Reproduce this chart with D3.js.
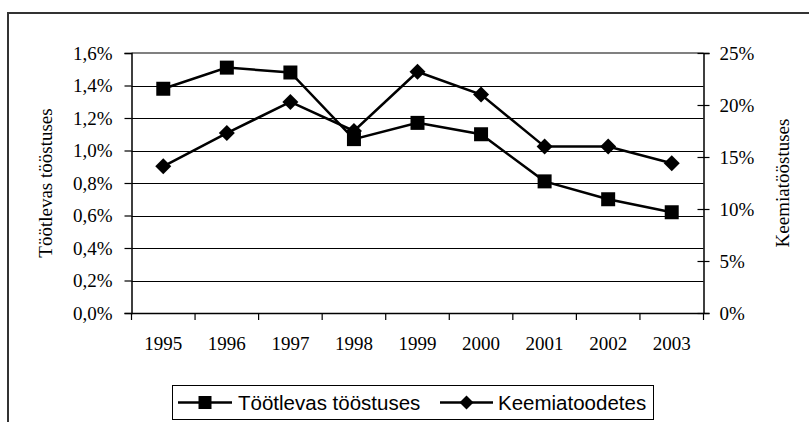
<!DOCTYPE html>
<html>
<head>
<meta charset="utf-8">
<script src="https://cdn.jsdelivr.net/npm/d3@7"></script>
<style>
	body { margin: 0; background: #fff; }
	svg { display: block; }
</style>
</head>
<body>
<div id="chart"></div>
<script>
// andmed
const years = ["1995", "1996", "1997", "1998", "1999", "2000", "2001", "2002", "2003"];
const tootlevas = [0.0138, 0.0151, 0.0148, 0.0107, 0.0117, 0.0110, 0.0081, 0.0070, 0.0062];
const keemia = [0.141, 0.173, 0.203, 0.175, 0.232, 0.210, 0.160, 0.160, 0.144];
const leftTicks = [0, 0.002, 0.004, 0.006, 0.008, 0.010, 0.012, 0.014, 0.016];
const rightTicks = [0, 0.05, 0.10, 0.15, 0.20, 0.25];
const seriesNames = ["Töötlevas tööstuses", "Keemiatoodetes"];

const width = 809;
const height = 422;
const plot = { left: 131.5, right: 703.5, top: 53, bottom: 313 };

const et = d3.formatLocale({ decimal: ",", thousands: " ", grouping: [3], currency: ["", " €"] });

const svg = d3
	.select("#chart")
	.append("svg")
	.attr("width", width)
	.attr("height", height);

// välimine raam
svg.append("path")
	.attr("d", `M8,${height} V13 H${width}`)
	.attr("fill", "none")
	.attr("stroke", "#333")
	.attr("stroke-width", 2);

const x = d3.scaleBand().domain(years).range([plot.left, plot.right]);
const yL = d3.scaleLinear().domain([0, 0.016]).range([plot.bottom, plot.top]);
const yR = d3.scaleLinear().domain([0, 0.25]).range([plot.bottom, plot.top]);

// ruudustik
svg.append("g")
	.selectAll("line")
	.data(leftTicks.slice(1, -1))
	.enter()
	.append("line")
	.attr("x1", plot.left)
	.attr("x2", plot.right)
	.attr("y1", (d) => Math.round(yL(d)) + 0.5)
	.attr("y2", (d) => Math.round(yL(d)) + 0.5)
	.attr("stroke", "#000")
	.attr("stroke-width", 1);

// ülemine raam
svg.append("line")
	.attr("x1", plot.left)
	.attr("x2", plot.right)
	.attr("y1", plot.top)
	.attr("y2", plot.top)
	.attr("stroke", "#808080")
	.attr("stroke-width", 2);

const tickFont = (g) =>
	g.selectAll("text")
		.attr("font-family", "'Liberation Serif', 'Times New Roman', serif")
		.attr("font-size", "19px")
		.attr("fill", "#000");

// vasak telg
const leftAxis = d3.axisLeft(yL).tickValues(leftTicks).tickFormat(et.format(".1%")).tickSize(7).tickPadding(12);
svg.append("g")
	.attr("transform", `translate(${plot.left},0)`)
	.call(leftAxis)
	.call((g) => g.select(".domain").attr("stroke-width", 1.5))
	.call((g) => g.selectAll(".tick line").attr("stroke-width", 1.2))
	.call(tickFont);

// parem telg (ristuvad kriipsud)
const rightAxis = d3.axisRight(yR).tickValues(rightTicks).tickFormat(et.format(".0%")).tickSize(6).tickPadding(10);
svg.append("g")
	.attr("transform", `translate(${plot.right},0)`)
	.call(rightAxis)
	.call((g) => g.select(".domain").attr("stroke-width", 1.5))
	.call((g) => g.selectAll(".tick line").attr("x1", -6).attr("stroke-width", 1.2))
	.call(tickFont);

// x telg: kriipsud kategooriate vahel
const xAxis = d3.axisBottom(x).tickSize(0).tickPadding(24);
const xg = svg.append("g")
	.attr("transform", `translate(0,${plot.bottom})`)
	.call(xAxis)
	.call((g) => g.select(".domain").attr("stroke-width", 1.5))
	.call(tickFont);
xg.selectAll(".sep")
	.data(years.concat([null]))
	.enter()
	.append("line")
	.attr("x1", (d, i) => plot.left + i * x.step())
	.attr("x2", (d, i) => plot.left + i * x.step())
	.attr("y1", 0)
	.attr("y2", 7)
	.attr("stroke", "#000")
	.attr("stroke-width", 1.2);

// telgede pealkirjad
svg.append("text")
	.attr("transform", `translate(52,${(plot.top + plot.bottom) / 2}) rotate(-90)`)
	.attr("text-anchor", "middle")
	.attr("font-family", "'Liberation Serif', 'Times New Roman', serif")
	.attr("font-size", "19px")
	.text("Töötlevas tööstuses");

svg.append("text")
	.attr("transform", `translate(789,${(plot.top + plot.bottom) / 2}) rotate(-90)`)
	.attr("text-anchor", "middle")
	.attr("font-family", "'Liberation Serif', 'Times New Roman', serif")
	.attr("font-size", "19px")
	.text("Keemiatööstuses");

const cx = (d, i) => x(years[i]) + x.bandwidth() / 2;

const square = d3.symbol().type(d3.symbolSquare).size(196);
const diamond = (s) => `M0,${-s}L${s},0L0,${s}L${-s},0Z`;

// Töötlevas tööstuses
svg.append("path")
	.datum(tootlevas)
	.attr("fill", "none")
	.attr("stroke", "#000")
	.attr("stroke-width", 2.5)
	.attr("d", d3.line().x(cx).y((d) => yL(d)));

svg.append("g")
	.selectAll("path")
	.data(tootlevas)
	.enter()
	.append("path")
	.attr("d", square)
	.attr("transform", (d, i) => `translate(${cx(d, i)},${yL(d)})`)
	.attr("fill", "#000");

// Keemiatoodetes
svg.append("path")
	.datum(keemia)
	.attr("fill", "none")
	.attr("stroke", "#000")
	.attr("stroke-width", 2.5)
	.attr("d", d3.line().x(cx).y((d) => yR(d)));

svg.append("g")
	.selectAll("path")
	.data(keemia)
	.enter()
	.append("path")
	.attr("d", diamond(8))
	.attr("transform", (d, i) => `translate(${cx(d, i)},${yR(d)})`)
	.attr("fill", "#000");

// legend
const legend = svg.append("g");
legend.append("rect")
	.attr("x", 172.5)
	.attr("y", 385.5)
	.attr("width", 481)
	.attr("height", 34)
	.attr("fill", "#fff")
	.attr("stroke", "#000")
	.attr("stroke-width", 1);

const legendItems = [
	{ name: seriesNames[0], x0: 178, x1: 232, text: 238, marker: square },
	{ name: seriesNames[1], x0: 440, x1: 493, text: 498, marker: diamond(7) },
];
const ly = 402.5;
const items = legend.selectAll(".item")
	.data(legendItems)
	.enter()
	.append("g")
	.attr("class", "item");
items.append("line")
	.attr("x1", (d) => d.x0)
	.attr("x2", (d) => d.x1)
	.attr("y1", ly)
	.attr("y2", ly)
	.attr("stroke", "#000")
	.attr("stroke-width", 2.5);
items.append("path")
	.attr("d", (d, i) => (i === 0 ? d3.symbol().type(d3.symbolSquare).size(169)() : d.marker))
	.attr("transform", (d) => `translate(${(d.x0 + d.x1) / 2},${ly})`)
	.attr("fill", "#000");
items.append("text")
	.attr("x", (d) => d.text)
	.attr("y", ly + 7)
	.attr("font-family", "'Liberation Sans', Arial, sans-serif")
	.attr("font-size", "20.5px")
	.text((d) => d.name);
</script>
</body>
</html>
